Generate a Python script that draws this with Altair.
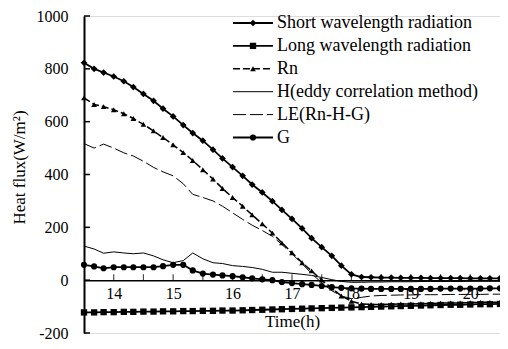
import altair as alt
import pandas as pd

# ---------------- data ----------------
times = [13.50, 13.67, 13.83, 14.00, 14.17, 14.33, 14.50, 14.67, 14.83, 15.00,
         15.17, 15.33, 15.50, 15.67, 15.83, 16.00, 16.17, 16.33, 16.50, 16.67,
         16.83, 17.00, 17.17, 17.33, 17.50, 17.67, 17.83, 18.00, 18.17, 18.33,
         18.50, 18.67, 18.83, 19.00, 19.17, 19.33, 19.50, 19.67, 19.83, 20.00,
         20.17, 20.33, 20.50]

short_wave = [823, 800, 786, 771, 753, 731, 705, 679, 649, 620,
              587, 557, 528, 494, 461, 428, 395, 362, 332, 299,
              266, 232, 196, 159, 125, 92, 55, 22, 12, 11,
              10, 10, 9, 9, 9, 8, 8, 8, 8, 7,
              7, 7, 7]
long_wave = [-122, -122, -121, -121, -120, -120, -119, -119, -118, -118,
             -117, -117, -116, -116, -115, -115, -114, -113, -112, -111,
             -110, -109, -108, -107, -106, -105, -104, -103, -102, -101,
             -100, -99, -98, -97, -96, -95, -94, -93, -93, -92,
             -91, -91, -90]
rn = [690, 665, 657, 645, 630, 612, 590, 565, 540, 512,
      483, 453, 418, 383, 347, 313, 280, 247, 213, 178,
      141, 104, 66, 35, 0, -30, -60, -80, -90, -92,
      -92, -91, -90, -90, -89, -88, -87, -86, -86, -85,
      -84, -84, -83]
h_eddy = [129, 118, 102, 107, 103, 100, 103, 92, 77, 66,
          74, 103, 81, 66, 63, 55, 52, 48, 41, 30,
          30, 26, 22, 18, 10, 2, -5, -8, -8, -7,
          -7, -6, -6, -6, -5, -5, -5, -5, -5, -4,
          -4, -4, -4]
le = [517, 500, 515, 500, 482, 470, 450, 427, 410, 395,
      365, 325, 313, 300, 280, 255, 230, 208, 188, 166,
      135, 100, 62, 25, -10, -40, -60, -70, -65, -60,
      -58, -57, -56, -56, -55, -55, -55, -54, -54, -54,
      -54, -53, -53]
g_soil = [58, 52, 45, 49, 49, 49, 49, 49, 53, 58,
          58, 37, 25, 21, 18, 15, 11, 7, 3, 0,
          -7, -11, -15, -18, -22, -26, -29, -31, -32, -33,
          -33, -33, -33, -33, -33, -33, -32, -32, -32, -32,
          -32, -31, -31]

series_names = ["Short wavelength radiation", "Long wavelength radiation", "Rn",
                "H(eddy correlation method)", "LE(Rn-H-G)", "G"]
series_values = [short_wave, long_wave, rn, h_eddy, le, g_soil]

x_label_hours = [14, 15, 16, 17, 18, 19, 20]
x_tick_hours = [14, 14.5, 15, 15.5, 16, 16.5, 17, 17.5, 18, 18.5, 19, 19.5, 20]
y_tick_values = [-200, 0, 200, 400, 600, 800, 1000]

# ---------------- styles ----------------
FONT = "Liberation Serif"
PLOT_W, PLOT_H = 416, 317
PAD = {"left": 76, "top": 8, "right": 0, "bottom": 8}
styles = {
    "Short wavelength radiation": dict(shape="diamond", size=45, dash=None, width=1.8),
    "Long wavelength radiation": dict(shape="square", size=40, dash=None, width=1.8),
    "Rn": dict(shape="triangle-up", size=32, dash=[7, 3], width=1.5),
    "H(eddy correlation method)": dict(shape=None, size=0, dash=None, width=1.0),
    "LE(Rn-H-G)": dict(shape=None, size=0, dash=[13, 4], width=1.0),
    "G": dict(shape="circle", size=38, dash=None, width=1.8),
}

rows = []
for name, vals in zip(series_names, series_values):
    for t, v in zip(times, vals):
        rows.append({"time": t, "value": v, "series": name})
df = pd.DataFrame(rows)

zero_offset = -PLOT_H * 200.0 / 1200.0

x_enc = alt.X(
    "time:Q",
    scale=alt.Scale(domain=[13.5, 20.5], nice=False, zero=False),
    axis=alt.Axis(
        values=x_label_hours, labelExpr="'' + datum.value", title="Time(h)",
        offset=zero_offset, tickSize=0, labelPadding=5, titlePadding=12, grid=False,
        domainColor="black", domainWidth=1.5,
        labelFont=FONT, labelFontSize=16, labelColor="black", labelFlush=False,
        titleFont=FONT, titleFontSize=17, titleFontWeight="normal", titleColor="black",
    ),
)
y_enc = alt.Y(
    "value:Q",
    scale=alt.Scale(domain=[-200, 1000], nice=False, zero=False),
    axis=alt.Axis(
        values=y_tick_values, labelExpr="'' + datum.value", title="Heat flux(W/m²)",
        tickSize=0, labelPadding=16, grid=False,
        domainColor="black", domainWidth=2,
        labelFont=FONT, labelFontSize=16, labelColor="black",
        titleFont=FONT, titleFontSize=17, titleFontWeight="normal", titleColor="black",
        titleX=-65, titleY=151, titleAngle=270, titleAlign="center", titleBaseline="middle",
    ),
)

layers = []
for name in series_names:
    st = styles[name]
    line_kw = dict(color="black", strokeWidth=st["width"])
    if st["dash"]:
        line_kw["strokeDash"] = st["dash"]
    base = alt.Chart(df).transform_filter(alt.datum.series == name)
    layers.append(base.mark_line(**line_kw).encode(x=x_enc, y=y_enc))
    if st["shape"]:
        layers.append(base.mark_point(shape=st["shape"], size=st["size"], filled=True,
                                      color="black", opacity=1).encode(x=x_enc, y=y_enc))

# inward ticks
xt = pd.DataFrame({"time": x_tick_hours, "value": [0] * len(x_tick_hours)})
layers.append(alt.Chart(xt).mark_tick(orient="vertical", size=6, thickness=1.2,
                                      color="black", yOffset=-3).encode(x=x_enc, y=y_enc))
yt = pd.DataFrame({"value": y_tick_values})
layers.append(alt.Chart(yt).mark_rule(color="black", strokeWidth=1.5).encode(
    y=y_enc, x=alt.value(0), x2=alt.value(6)))

# manual legend
LEG_X0, LEG_X1, LEG_XM, LEG_XT = 149, 189, 169, 193
for i, name in enumerate(series_names):
    st = styles[name]
    py = 7 + 22.9 * i
    ld = pd.DataFrame({"name": [name]})
    rule_kw = dict(color="black", strokeWidth=st["width"])
    if st["dash"]:
        rule_kw["strokeDash"] = st["dash"]
    layers.append(alt.Chart(ld).mark_rule(**rule_kw).encode(
        x=alt.value(LEG_X0), x2=alt.value(LEG_X1), y=alt.value(py)))
    if st["shape"]:
        layers.append(alt.Chart(ld).mark_point(shape=st["shape"], size=st["size"], filled=True,
                                               color="black", opacity=1).encode(
            x=alt.value(LEG_XM), y=alt.value(py)))
    layers.append(alt.Chart(ld).mark_text(align="left", baseline="middle", font=FONT,
                                          fontSize=18, color="black").encode(
        x=alt.value(LEG_XT), y=alt.value(py), text="name:N"))

chart = alt.layer(*layers).properties(
    width=PLOT_W, height=PLOT_H,
    autosize=alt.AutoSizeParams(type="none"),
    padding=PAD,
).configure_view(stroke=None).configure_axis(
    labelFont=FONT, titleFont=FONT
).configure(background="white")

chart.save("out.html", embed_options={"renderer": "svg", "actions": False})
